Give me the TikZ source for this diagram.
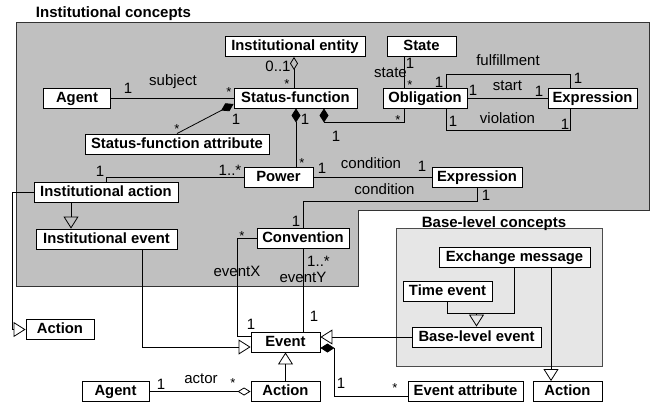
\documentclass[tikz,border=0pt]{standalone}
\usepackage{fontspec}
\setmainfont{Liberation Sans}
\usetikzlibrary{arrows.meta,calc}
\definecolor{regiongray}{HTML}{C0C0C0}
\definecolor{basegray}{HTML}{E6E6E6}
\newcommand{\smallstar}{\raisebox{-5.7pt}[3.6pt][0pt]{*}}
\begin{document}
\begin{tikzpicture}[x=1pt,y=-1pt,
 cls/.style={draw=black, line width=0.9pt, fill=white, font=\fontsize{14.8}{16}\selectfont\bfseries, inner xsep=2pt, inner ysep=0pt, minimum height=20pt, text height=11pt, text depth=3pt},
 lbl/.style={font=\fontsize{15}{16}\selectfont, anchor=base, inner sep=0pt},
 starlbl/.style={font=\fontsize{13}{13}\selectfont, anchor=center, inner sep=0pt},
 ttl/.style={font=\fontsize{15}{16}\selectfont\bfseries, anchor=base, inner sep=0pt},
 conn/.style={line width=0.8pt},
 gen/.style={conn, -{Triangle[open, length=12pt, width=15pt]}},
 agg/.style={conn, {Diamond[open, length=13pt, width=8pt]}-},
 comp/.style={conn, {Diamond[length=14pt, width=9pt]}-}]
\useasboundingbox (0,0) rectangle (664,410);
\fill[white] (0,0) rectangle (664,410);
% regions
\draw[fill=regiongray, draw=black!80, line width=0.8pt] (16,22) -- (649,22) -- (649,210) -- (358,210) -- (358,286) -- (16,286) -- cycle;
\draw[fill=basegray, draw=black!70, line width=0.8pt] (396,228) rectangle (602,366);
\node[ttl] (t1) at (113.5,17) {Institutional concepts};
\node[ttl] (t2) at (494,227) {Base-level concepts};
% classes
\node[cls, minimum width=140pt] (ientity) at (295,46.5) {Institutional entity};
\node[cls, minimum width=69pt] (state) at (421.5,46) {State};
\node[cls, minimum width=123pt] (sf) at (295.5,98) {Status-function};
\node[cls, minimum width=67pt] (agent1) at (77,98) {Agent};
\node[cls, minimum width=84pt] (oblig) at (425,98.5) {Obligation};
\node[cls, minimum width=89pt] (expr1) at (592.5,98.5) {Expression};
\node[cls, minimum width=184pt] (sfattr) at (177,144) {Status-function attribute};
\node[cls, minimum width=69pt] (power) at (278.5,177) {Power};
\node[cls, minimum width=144pt] (iaction) at (106,192.5) {Institutional action};
\node[cls, minimum width=90pt] (expr2) at (477,177) {Expression};
\node[cls, minimum width=141pt] (ievent) at (106.5,239) {Institutional event};
\node[cls, minimum width=92pt] (conv) at (303,238.5) {Convention};
\node[cls, minimum width=151pt] (exch) at (514.5,257.5) {Exchange message};
\node[cls, minimum width=89pt] (time) at (447.5,291.5) {Time event};
\node[cls, minimum width=129pt] (blevent) at (476.5,337) {Base-level event};
\node[cls, minimum width=68pt] (action1) at (60,329.5) {Action};
\node[cls, minimum width=69pt] (event) at (285.5,342) {Event};
\node[cls, minimum width=67pt] (agent2) at (115.5,391.5) {Agent};
\node[cls, minimum width=69pt] (action2) at (285.5,391.5) {Action};
\node[cls, minimum width=115pt] (eattr) at (465.5,391.5) {Event attribute};
\node[cls, minimum width=69pt] (action3) at (567.5,391.5) {Action};
% helper coordinates
\coordinate (x12) at (12,0);
\coordinate (x71) at (71,0);
\coordinate (x142) at (142,0);
\coordinate (x294) at (294,0);
\coordinate (x296) at (296,0);
\coordinate (x324) at (324,0);
\coordinate (x404) at (404,0);
\coordinate (x446) at (446,0);
\coordinate (x551) at (551,0);
\coordinate (x570) at (570,0);
\coordinate (j) at (476.5,313);
% connectors
\draw[conn] (agent1.east) -- (sf.west);
\draw[agg] (ientity.south -| x294) -- (sf.north -| x294);
\draw[comp] ($(sf.west)+(0,6)$) -- (sfattr.north);
\draw[comp] (sf.south -| x296) -- (power.north -| x296);
\draw[comp] (sf.south -| x324) -- ++(0,14) -| (oblig.south -| x404);
\draw[conn] (state.south -| x404) -- (oblig.north -| x404);
\draw[conn] (oblig.east) -- (expr1.west);
\draw[conn] (oblig.north -| x446) -- ++(0,-14) -| (expr1.north -| x570);
\draw[conn] (oblig.south -| x446) -- ++(0,21) -| (expr1.south -| x570);
\draw[conn] (power.west) -| (iaction.north);
\draw[conn] (power.east) -- (expr2.west);
\draw[conn] (expr2.south) -- ++(0,14) -| (conv.north);
\draw[gen] (iaction.west) -- (iaction.west -| x12) -- (action1.west -| x12) -- (action1.west);
\draw[gen] (iaction.south -| x71) -- (ievent.north -| x71);
\draw[gen] (ievent.south -| x142) |- ($(event.west)+(0,5)$);
\draw[conn] (conv.west) -| ($(event.west)+(-13,-6)$) -- ($(event.west)+(0,-6)$);
\draw[conn] (conv.south) -- (event.north -| conv.south);
\draw[gen] (blevent.west) -- (blevent.west -| event.east);
\draw[comp] ($(event.east)+(0,6)$) -- ++(14,0) |- ($(eattr.west)+(0,5)$);
\draw[agg] (action2.west) -- (agent2.east);
\draw[gen] (action2.north) -- (event.south);
\draw[conn] (time.south) |- (j);
\draw[conn] (exch.south) |- (j);
\draw[gen] (j) -- (blevent.north);
\draw[gen] (exch.south -| x551) -- (action3.north -| x551);
% labels
\node[lbl] (l1) at (128,93) {1};
\node[lbl] (l2) at (173,85) {subject};
\node[starlbl] (l3) at (229,89) {\smallstar};
\node[lbl] (l4) at (278,71) {0..1};
\node[starlbl] (l5) at (287,81) {\smallstar};
\node[starlbl] (l6) at (177,125.5) {\smallstar};
\node[lbl] (l7) at (236,124) {1};
\node[lbl] (l8) at (305,124) {1};
\node[starlbl] (l9) at (302,159.5) {\smallstar};
\node[lbl] (l10) at (336,141) {1};
\node[starlbl] (l11) at (398,117) {\smallstar};
\node[lbl] (l12) at (410,68) {1};
\node[lbl] (l13) at (390.5,77) {state};
\node[starlbl] (l14) at (410,82) {\smallstar};
\node[lbl] (l15) at (439,87) {1};
\node[lbl] (l16) at (508,65) {fulfillment};
\node[lbl] (l17) at (578,83) {1};
\node[lbl] (l18) at (473,95) {1};
\node[lbl] (l19) at (507.5,90) {start};
\node[lbl] (l20) at (539,96) {1};
\node[lbl] (l21) at (453,126) {1};
\node[lbl] (l22) at (507.5,123) {violation};
\node[lbl] (l23) at (565,129) {1};
\node[lbl] (l24) at (100,176) {1};
\node[lbl] (l25) at (230,175) {1..*};
\node[lbl] (l26) at (322,173) {1};
\node[lbl] (l27) at (371,168) {condition};
\node[lbl] (l28) at (422,171) {1};
\node[lbl] (l29) at (384.5,194) {condition};
\node[lbl] (l30) at (486,200) {1};
\node[lbl] (l31) at (296,226) {1};
\node[starlbl] (l32) at (242,233) {\smallstar};
\node[lbl] (l33) at (237,276) {eventX};
\node[lbl] (l34) at (318.5,266) {1..*};
\node[lbl] (l35) at (303,282) {eventY};
\node[lbl] (l36) at (251,329) {1};
\node[lbl] (l37) at (314,321) {1};
\node[lbl] (l38) at (341,388) {1};
\node[starlbl] (l39) at (395,385) {\smallstar};
\node[lbl] (l40) at (161,389) {1};
\node[lbl] (l41) at (201,383) {actor};
\node[starlbl] (l42) at (233,380) {\smallstar};
\end{tikzpicture}
\end{document}
